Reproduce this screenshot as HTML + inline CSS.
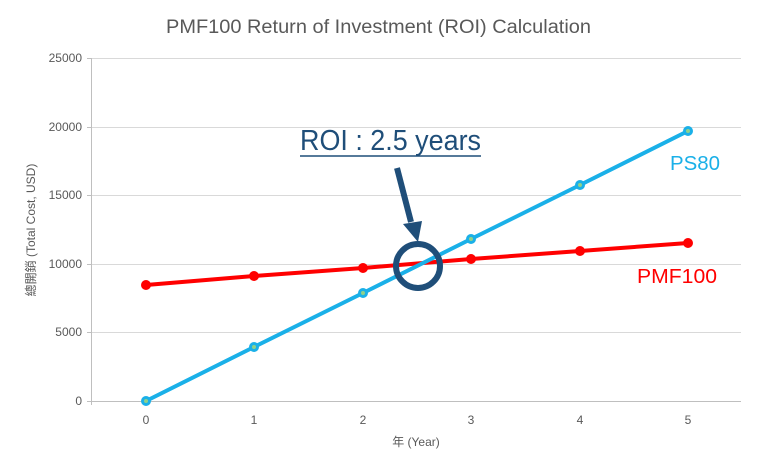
<!DOCTYPE html><html><head><meta charset="utf-8"><style>body{margin:0;background:#fff}</style></head><body>
<svg width="757" height="470" xmlns="http://www.w3.org/2000/svg" font-family="Liberation Sans, Noto Sans CJK TC, sans-serif">
<rect width="757" height="470" fill="#fff"/>
<text x="166" y="33" font-size="19" fill="#595959" textLength="425" lengthAdjust="spacingAndGlyphs">PMF100 Return of Investment (ROI) Calculation</text>
<g stroke="#d9d9d9" stroke-width="1">
<line x1="91" x2="741" y1="58.5" y2="58.5"/><line x1="91" x2="741" y1="127.5" y2="127.5"/><line x1="91" x2="741" y1="195.5" y2="195.5"/><line x1="91" x2="741" y1="264.5" y2="264.5"/><line x1="91" x2="741" y1="332.5" y2="332.5"/>
</g>
<g stroke="#bfbfbf"><line x1="91.5" x2="91.5" y1="58" y2="405"/><line x1="87" x2="741" y1="401.5" y2="401.5"/>
<line x1="87" x2="91" y1="58.5" y2="58.5"/><line x1="87" x2="91" y1="127.5" y2="127.5"/><line x1="87" x2="91" y1="195.5" y2="195.5"/><line x1="87" x2="91" y1="264.5" y2="264.5"/><line x1="87" x2="91" y1="332.5" y2="332.5"/></g>
<g font-size="12" fill="#595959" text-anchor="end">
<text x="82" y="62">25000</text><text x="82" y="131">20000</text><text x="82" y="199">15000</text><text x="82" y="268">10000</text><text x="82" y="336">5000</text><text x="82" y="405">0</text></g>
<g font-size="12" fill="#595959" text-anchor="middle">
<text x="146" y="424">0</text><text x="254" y="424">1</text><text x="363" y="424">2</text><text x="471" y="424">3</text><text x="580" y="424">4</text><text x="688" y="424">5</text>
<text x="416" y="446">年 (Year)</text></g>
<text transform="translate(35,230) rotate(-90)" font-size="12" fill="#595959" text-anchor="middle">總開銷 (Total Cost, USD)</text>
<polyline points="146,285 254,276 363,268 471,259 580,251 688,243" fill="none" stroke="#ff0000" stroke-width="4"/>
<polyline points="146,401 254,347 363,293 471,239 580,185 688,131" fill="none" stroke="#1ab0e8" stroke-width="4"/>
<g fill="#ff0000" stroke="#ff0000" stroke-width="2"><circle cx="146" cy="285" r="4"/><circle cx="254" cy="276" r="4"/><circle cx="363" cy="268" r="4"/><circle cx="471" cy="259" r="4"/><circle cx="580" cy="251" r="4"/><circle cx="688" cy="243" r="4"/></g>
<g fill="#8fd18a" stroke="#1ab0e8" stroke-width="3"><circle cx="146" cy="401" r="3.5"/><circle cx="254" cy="347" r="3.5"/><circle cx="363" cy="293" r="3.5"/><circle cx="471" cy="239" r="3.5"/><circle cx="580" cy="185" r="3.5"/><circle cx="688" cy="131" r="3.5"/></g>
<text x="670" y="170" font-size="20" fill="#1ab0e8" textLength="50" lengthAdjust="spacingAndGlyphs">PS80</text>
<text x="637" y="283" font-size="20" fill="#ff0000" textLength="80" lengthAdjust="spacingAndGlyphs">PMF100</text>
<text x="300" y="150" font-size="29" fill="#1f4e79" textLength="181" lengthAdjust="spacingAndGlyphs">ROI : 2.5 years</text>
<line x1="300" x2="481" y1="156" y2="156" stroke="#1f4e79" stroke-width="1.5"/>
<line x1="397" y1="168" x2="411" y2="222" stroke="#1f4e79" stroke-width="6"/>
<polygon points="403,224 422,221 418,242" fill="#1f4e79"/>
<circle cx="418" cy="266" r="22" fill="none" stroke="#1f4e79" stroke-width="6"/>
</svg></body></html>
